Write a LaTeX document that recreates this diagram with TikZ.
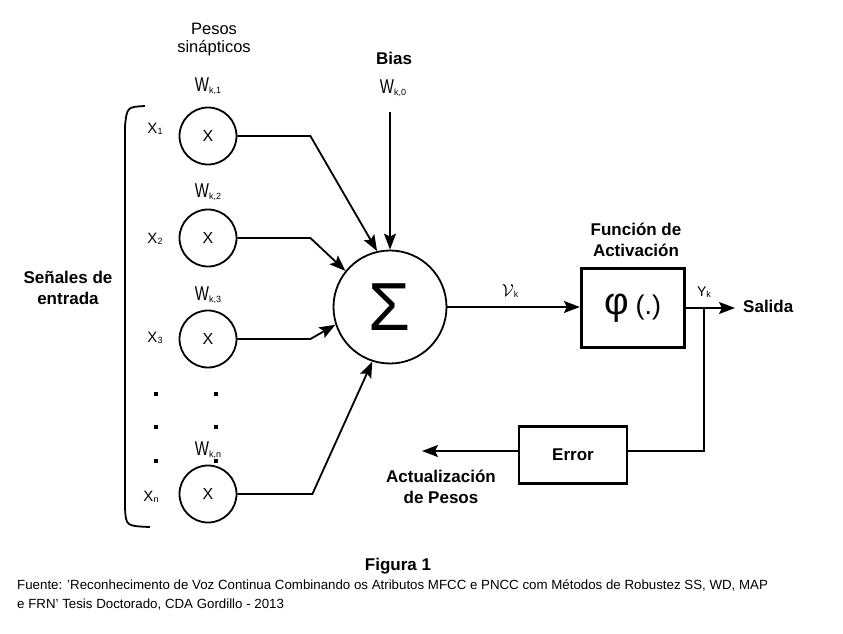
\documentclass[tikz,border=0pt]{standalone}
\usepackage{fontspec}
\setmainfont{Liberation Sans}
\newfontfamily\estrecha[FakeStretch=0.75]{Liberation Sans}
\usetikzlibrary{arrows.meta}
\newcommand{\fsz}[2]{\fontsize{#1}{#2}\selectfont}
\newcommand{\subi}[1]{\raisebox{-1.5pt}{\fsz{9}{9}#1}}
\newcommand{\peso}[1]{{\estrecha\fsz{20}{20}W}\subi{#1}}

\begin{document}
\begin{tikzpicture}[x=1pt, y=-1pt,
    every node/.style={inner sep=0pt},
    entrada/.style={draw, circle, line width=1.8pt, minimum size=57pt, font=\fsz{16}{16}},
    etiq/.style={font=\fsz{15}{15}},
    rotulo/.style={font=\fsz{17}{21}\bfseries, align=center},
    linea/.style={line width=1.8pt},
    flecha/.style={line width=1.8pt, -{Stealth[length=16pt, width=12pt, inset=3pt]}}]
    \useasboundingbox[fill=white] (0,0) rectangle (843,633);

    \node[font=\fsz{16.5}{18}, align=center] (pesos) at (214,40) {Pesos\\sinápticos};
    \node[rotulo] (entr) at (68,288) {Señales de\\entrada};

    \node[entrada] (x1) at (208,136) {X};
    \node[entrada] (x2) at (208,238) {X};
    \node[entrada] (x3) at (208,339) {X};
    \node[entrada] (xn) at (208,494) {X};

    \node[etiq] (lx1) at (155,129) {X\subi{1}};
    \node[etiq] (lx2) at (155,239) {X\subi{2}};
    \node[etiq] (lx3) at (155,338) {X\subi{3}};
    \node[etiq] (lxn) at (151,497) {X\subi{n}};

    \node (w1) at (208,86) {\peso{k,1}};
    \node (w2) at (208,192) {\peso{k,2}};
    \node (w3) at (208,295) {\peso{k,3}};
    \node (wn) at (208,450) {\peso{k,n}};

    \foreach \y in {392,425,459} {
        \fill (154,\y) rectangle ++(4,4);
        \fill (214,\y) rectangle ++(4,4);
    }

    \draw[linea] (145,106) .. controls (127,107) .. (125,126) -- (125,508) .. controls (126,526) .. (150,527);

    \node[draw, circle, line width=1.8pt, minimum size=113pt, font=\fsz{68}{68}] (suma) at (390,307) {Σ};

    \node[rotulo] (bias) at (394,58) {Bias};
    \node (w0) at (393,88) {\peso{k,0}};
    \coordinate (bias_in) at (390,112);

    \draw[flecha] (x1.east) -- ++(73,0) -- (suma.103);
    \draw[flecha] (x2.east) -- ++(73,0) -- (suma.141);
    \draw[flecha] (x3.east) -- ++(73,0) -- (suma.198);
    \draw[flecha] (xn.east) -- ++(75,0) -- (suma.252);
    \draw[flecha] (bias_in) -- (suma.north);

    \node[draw, line width=3.2pt, minimum width=103pt, minimum height=79pt] (act) at (633,308)
        {\fsz{38}{38}φ\hspace{6pt}\fsz{27}{27}(.)};
    \node[rotulo] (lact) at (636,240) {Función de\\Activación};
    \node (vk) at (510,291) {\fsz{17}{17}$\mathcal{V}$\subi{k}};
    \draw[flecha] (suma.east) -- (act.west |- suma.east);

    \coordinate (salida) at (735,308);
    \coordinate (tap) at (704,308);
    \draw[flecha] (act.east) -- (salida);
    \node (yk) at (704,292) {\fsz{14}{14}Y\subi{k}};
    \node[rotulo, anchor=west] (lsal) at (743,306) {Salida};

    \node[rotulo, draw, line width=2.8pt, minimum width=108pt, minimum height=57pt] (error) at (573,455) {Error};
    \coordinate (act_pesos) at (422,451);
    \draw[linea] (tap) |- (error.east |- act_pesos);
    \draw[flecha] (error.west |- act_pesos) -- (act_pesos);
    \node[rotulo] (lpesos) at (441,487) {Actualización\\de Pesos};

    \node[font=\fsz{17}{17}\bfseries] (fig) at (398,566) {Figura 1};
    \node[font=\fsz{13.3}{19}, align=left, anchor=north west] (fuente) at (17,579)
        {Fuente: 'Reconhecimento de Voz Continua Combinando os Atributos MFCC e PNCC com Métodos de Robustez SS, WD, MAP\\
         e FRN' Tesis Doctorado, CDA Gordillo - 2013};
\end{tikzpicture}
\end{document}
